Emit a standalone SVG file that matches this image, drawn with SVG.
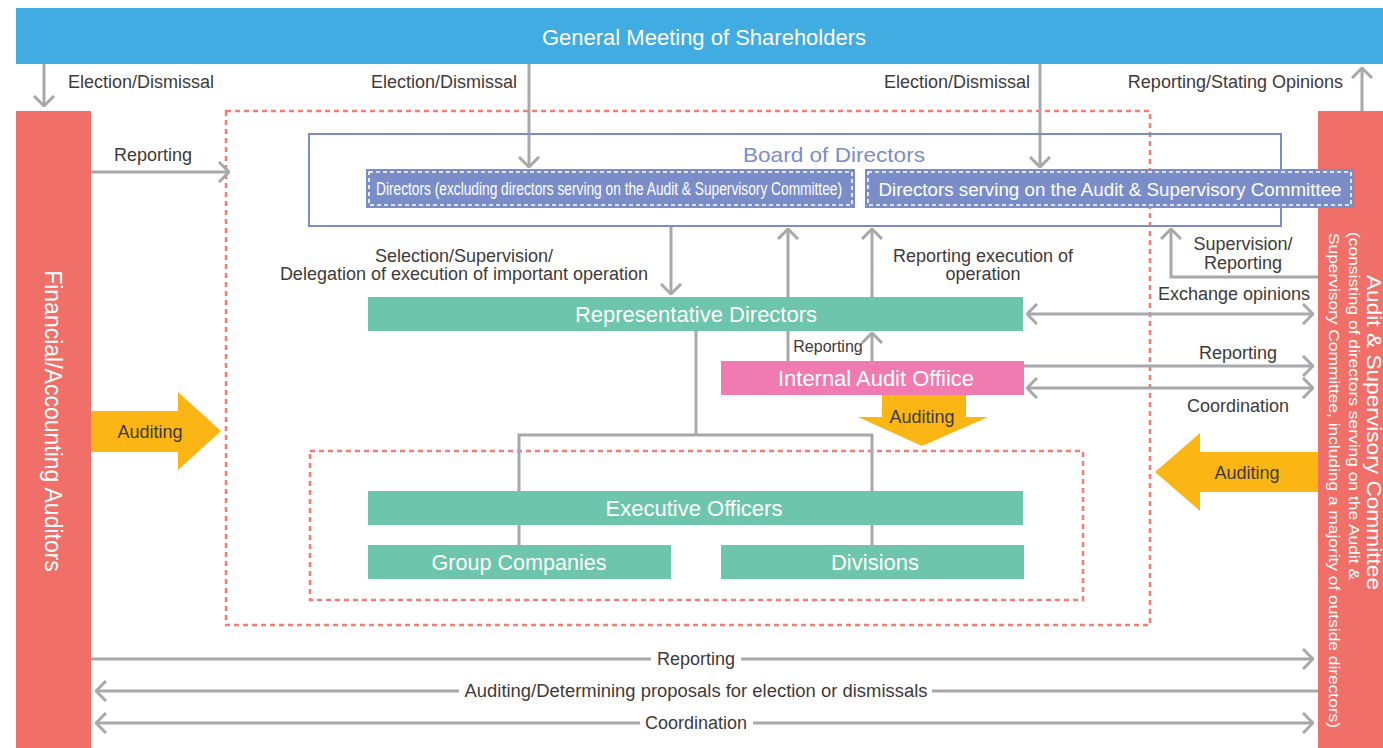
<svg xmlns="http://www.w3.org/2000/svg" width="1383" height="748" viewBox="0 0 1383 748">
<style>
text{font-family:"Liberation Sans",Arial,sans-serif}
.lbl{font-size:18px;fill:#3E3A39}
.wt{fill:#fff;font-size:22px;text-anchor:middle}
.con{fill:none;stroke:#A7A8AB;stroke-width:3}
.dash{fill:none;stroke:#F47C74;stroke-width:2.5;stroke-dasharray:5 4}
.teal{fill:#6DC6AC}
.red{fill:#F07069}
.yel{fill:#FBB616}
.dir{fill:#7A8DC9}
.din{fill:none;stroke:#fff;stroke-width:1.6;stroke-dasharray:4 3}
</style>
<defs>
<marker id="ah" viewBox="0 0 12 22" refX="11" refY="11" markerWidth="12" markerHeight="22" markerUnits="userSpaceOnUse" orient="auto-start-reverse">
<path d="M1,1 L11,11 L1,21" fill="none" stroke="#A7A8AB" stroke-width="3"/>
</marker>
</defs>

<!-- dashed regions -->
<rect class="dash" x="226" y="111" width="924" height="514"/>
<rect class="dash" x="310" y="451" width="773" height="149"/>

<!-- connectors -->
<g id="connectors">
<path class="con" d="M44,64 V106" marker-end="url(#ah)"/>
<path class="con" d="M529,64 V167" marker-end="url(#ah)"/>
<path class="con" d="M1040,64 V167" marker-end="url(#ah)"/>
<path class="con" d="M1362,111 V68" marker-end="url(#ah)"/>
<path class="con" d="M91,172 H229" marker-end="url(#ah)"/>
<path class="con" d="M671,226 V294" marker-end="url(#ah)"/>
<path class="con" d="M788,361 V229" marker-end="url(#ah)"/>
<path class="con" d="M872,297 V229" marker-end="url(#ah)"/>
<path class="con" d="M872,361 V333" marker-end="url(#ah)"/>
<path class="con" d="M1318,277 H1171 V229" marker-end="url(#ah)"/>
<path class="con" d="M1027,314 H1313" marker-start="url(#ah)" marker-end="url(#ah)"/>
<path class="con" d="M1024,366 H1313" marker-end="url(#ah)"/>
<path class="con" d="M1027,388 H1313" marker-start="url(#ah)" marker-end="url(#ah)"/>
<path class="con" d="M696,331 V435"/>
<path class="con" d="M519,491 V435 H872 V491"/>
<path class="con" d="M519,525 V545 M872,525 V545"/>
<path class="con" d="M91,659 H651"/>
<path class="con" d="M741,659 H1313" marker-end="url(#ah)"/>
<path class="con" d="M1318,691 H932"/>
<path class="con" d="M459,691 H96" marker-end="url(#ah)"/>
<path class="con" d="M96,723 H640" marker-start="url(#ah)"/>
<path class="con" d="M753,723 H1313" marker-end="url(#ah)"/>
</g>

<!-- connector labels -->
<g id="labels">
<text class="lbl" x="68" y="88">Election/Dismissal</text>
<text class="lbl" x="517" y="88" text-anchor="end">Election/Dismissal</text>
<text class="lbl" x="1030" y="88" text-anchor="end">Election/Dismissal</text>
<text class="lbl" x="1343" y="88" text-anchor="end">Reporting/Stating Opinions</text>
<text class="lbl" x="153" y="161" text-anchor="middle">Reporting</text>
<text class="lbl" x="464" y="262" text-anchor="middle">Selection/Supervision/</text>
<text class="lbl" x="464" y="280" text-anchor="middle">Delegation of execution of important operation</text>
<text class="lbl" x="983" y="262" text-anchor="middle">Reporting execution of</text>
<text class="lbl" x="983" y="280" text-anchor="middle">operation</text>
<text class="lbl" x="1243" y="250" text-anchor="middle">Supervision/</text>
<text class="lbl" x="1243" y="269" text-anchor="middle">Reporting</text>
<text class="lbl" x="1234" y="300" text-anchor="middle">Exchange opinions</text>
<text class="lbl" x="828" y="352" text-anchor="middle" style="font-size:16px">Reporting</text>
<text class="lbl" x="1238" y="359" text-anchor="middle">Reporting</text>
<text class="lbl" x="1238" y="412" text-anchor="middle">Coordination</text>
<text class="lbl" x="696" y="665" text-anchor="middle">Reporting</text>
<text class="lbl" x="696" y="697" text-anchor="middle" textLength="463" lengthAdjust="spacingAndGlyphs">Auditing/Determining proposals for election or dismissals</text>
<text class="lbl" x="696" y="729" text-anchor="middle">Coordination</text>
</g>

<!-- nodes -->
<g id="shareholders">
<rect x="16" y="8" width="1367" height="56" fill="#41ACE1"/>
<text class="wt" x="704" y="45">General Meeting of Shareholders</text>
</g>

<g id="auditors">
<rect class="red" x="16" y="111" width="75" height="637"/>
<text x="45" y="421" transform="rotate(90 45 421)" fill="#fff" font-size="23" text-anchor="middle">Financial/Accounting Auditors</text>
</g>

<g id="committee">
<rect class="red" x="1318" y="111" width="65" height="637"/>
<text x="1367" y="275" transform="rotate(90 1367 275)" fill="#fff" font-size="20" textLength="315" lengthAdjust="spacingAndGlyphs">Audit &amp; Supervisory Committee</text>
<text x="1349" y="232" transform="rotate(90 1349 232)" fill="#fff" font-size="15" textLength="348" lengthAdjust="spacingAndGlyphs">(consisting of directors serving on the Audit &amp;</text>
<text x="1329" y="233" transform="rotate(90 1329 233)" fill="#fff" font-size="15" textLength="495" lengthAdjust="spacingAndGlyphs">Supervisory Committee, including a majority of outside directors)</text>
</g>

<g id="board">
<rect x="309" y="134" width="972" height="92" fill="none" stroke="#7A8DC9" stroke-width="2"/>
<text x="834" y="162" fill="#7A8DC9" font-size="21" text-anchor="middle" textLength="182" lengthAdjust="spacingAndGlyphs">Board of Directors</text>
</g>

<g id="directors">
<rect class="dir" x="366" y="169" width="489" height="39"/>
<rect class="din" x="369" y="172" width="483" height="33"/>
<text x="609" y="195" fill="#fff" font-size="18" text-anchor="middle" textLength="466" lengthAdjust="spacingAndGlyphs">Directors (excluding directors serving on the Audit &amp; Supervisory Committee)</text>
</g>

<g id="audit-directors">
<rect class="dir" x="865" y="169" width="489" height="39"/>
<rect class="din" x="868" y="172" width="483" height="33"/>
<text x="1110" y="196" fill="#fff" font-size="19" text-anchor="middle" textLength="463" lengthAdjust="spacingAndGlyphs">Directors serving on the Audit &amp; Supervisory Committee</text>
</g>

<g id="rep-directors">
<rect class="teal" x="368" y="297" width="655" height="34"/>
<text class="wt" x="696" y="322">Representative Directors</text>
</g>

<g id="internal-audit">
<rect x="721" y="361" width="303" height="34" fill="#F07BB0"/>
<text class="wt" x="876" y="386" textLength="196" lengthAdjust="spacingAndGlyphs">Internal Audit Offiice</text>
</g>

<g id="exec-officers">
<rect class="teal" x="368" y="491" width="655" height="34"/>
<text class="wt" x="694" y="516">Executive Officers</text>
</g>

<g id="group-companies">
<rect class="teal" x="368" y="545" width="303" height="34"/>
<text class="wt" x="519" y="570" textLength="175" lengthAdjust="spacingAndGlyphs">Group Companies</text>
</g>

<g id="divisions">
<rect class="teal" x="721" y="545" width="303" height="34"/>
<text class="wt" x="875" y="570">Divisions</text>
</g>

<g id="auditing-left">
<polygon class="yel" points="91,411 178,411 178,392 221,431 178,470 178,452 91,452"/>
<text class="lbl" x="150" y="438" text-anchor="middle">Auditing</text>
</g>
<g id="auditing-internal">
<polygon class="yel" points="882,395 966,395 966,417 988,417 922,446 858,417 882,417"/>
<text class="lbl" x="922" y="423" text-anchor="middle">Auditing</text>
</g>
<g id="auditing-right">
<polygon class="yel" points="1318,452 1200,452 1200,433 1155,472 1200,511 1200,492 1318,492"/>
<text class="lbl" x="1247" y="479" text-anchor="middle">Auditing</text>
</g>
</svg>
